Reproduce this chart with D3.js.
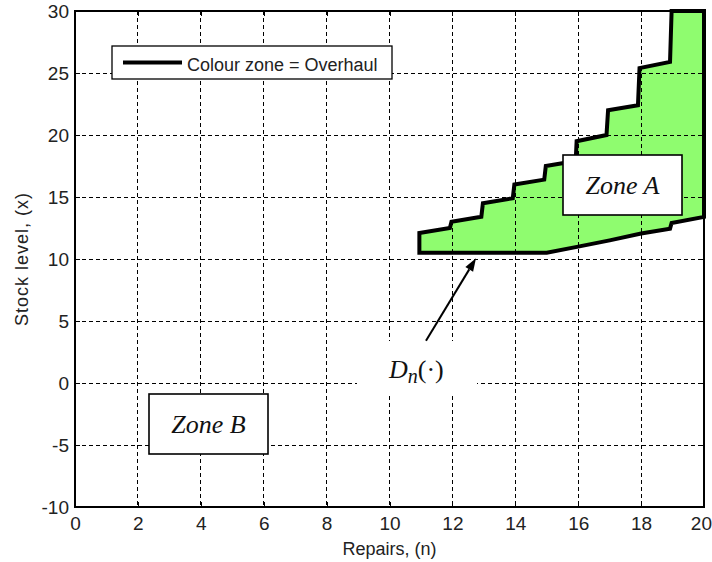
<!DOCTYPE html>
<html><head><meta charset="utf-8">
<script src="https://cdn.jsdelivr.net/npm/d3@7/dist/d3.min.js"></script>
<style>body{margin:0;background:#fff}</style>
</head><body>
<svg id="c" width="712" height="562"></svg>
<script>
// ---- data ----
const xTicks = [0, 2, 4, 6, 8, 10, 12, 14, 16, 18, 20];
const yTicks = [-10, -5, 0, 5, 10, 15, 20, 25, 30];
// upper (staircase) boundary of the overhaul zone: repairs n, stock x
const upperN = [10.95, 11.92, 11.97, 12.92, 12.97, 13.92, 13.97, 14.92, 14.97, 15.92, 15.95, 16.9, 16.95, 17.9, 17.95, 18.92, 18.97, 20];
const upperX = [12.1, 12.5, 13.0, 13.4, 14.5, 14.9, 16.0, 16.4, 17.5, 17.9, 19.5, 20.0, 22.0, 22.4, 25.4, 25.9, 30, 30];
// lower boundary D_n(.)
const lowerN = [10.95, 15.0, 16.0, 17.0, 18.0, 18.92, 18.97, 20];
const lowerX = [10.5, 10.5, 11.0, 11.5, 12.05, 12.45, 12.9, 13.4];
const legendLabel = "Colour zone = Overhaul";
const xLabel = "Repairs, (n)";
const yLabel = "Stock level, (x)";
const arrowFrom = [11.16, 3.4];
const arrowTo = [12.75, 10.06];

// ---- layout ----
const L = 75, R = 704, T = 11, B = 507;
const svg = d3.select("#c");
const x = d3.scaleLinear().domain([0, 20]).range([L, R]);
const y = d3.scaleLinear().domain([-10, 30]).range([B, T]);
const sans = "'Liberation Sans', Arial, sans-serif";
const serif = "'Liberation Serif', 'Times New Roman', serif";
const fmt = d => String(d);

svg.append("rect").attr("width", 712).attr("height", 562).attr("fill", "#fff");

// polygon points
const pts = upperN.map((n, i) => [n, upperX[i]]);
const lowRev = lowerN.map((n, i) => [n, lowerX[i]]).reverse();
const poly = pts.concat(lowRev);
const line = d3.line().x(d => x(d[0])).y(d => y(d[1]));

svg.append("path").attr("d", line(poly) + "Z").attr("fill", "#8ffc6f").attr("stroke", "none");

// grid
const grid = svg.append("g").attr("stroke", "#000").attr("stroke-width", 1).attr("stroke-dasharray", "4,3");
xTicks.slice(1, -1).forEach(t => grid.append("line").attr("x1", x(t)).attr("x2", x(t)).attr("y1", T).attr("y2", B).attr("shape-rendering", "crispEdges"));
yTicks.slice(1, -1).forEach(t => grid.append("line").attr("x1", L).attr("x2", R).attr("y1", y(t)).attr("y2", y(t)).attr("shape-rendering", "crispEdges"));

// polygon outline
svg.append("path").attr("d", line(poly) + "Z").attr("fill", "none").attr("stroke", "#000")
  .attr("stroke-width", 4).attr("stroke-linejoin", "miter");

// axes
const ax = svg.append("g").attr("transform", `translate(0,${B})`)
  .call(d3.axisBottom(x).tickValues(xTicks).tickSize(-5).tickPadding(9).tickFormat(fmt));
const ay = svg.append("g").attr("transform", `translate(${L},0)`)
  .call(d3.axisLeft(y).tickValues(yTicks).tickSize(-5).tickPadding(6).tickFormat(fmt));
const axT = svg.append("g").attr("transform", `translate(0,${T})`)
  .call(d3.axisTop(x).tickValues(xTicks).tickSize(-5).tickFormat(""));
const ayR = svg.append("g").attr("transform", `translate(${R},0)`)
  .call(d3.axisRight(y).tickValues(yTicks).tickSize(-5).tickFormat(""));
[ax, ay, axT, ayR].forEach(g => {
  g.select(".domain").remove();
  g.selectAll("line").attr("stroke", "#000").attr("shape-rendering", "crispEdges");
  g.selectAll("text").attr("font-family", sans).attr("font-size", 19).attr("fill", "#222");
});
ax.selectAll("text").attr("dy", "0.72em");
ax.selectAll("text").filter(d => d === 20).attr("text-anchor", "end").attr("x", 7.5);
svg.append("rect").attr("x", L).attr("y", T).attr("width", R - L).attr("height", B - T)
  .attr("fill", "none").attr("stroke", "#000").attr("stroke-width", 1.3).attr("shape-rendering", "crispEdges");

// axis labels
svg.append("text").attr("x", (L + R) / 2).attr("y", 555).attr("text-anchor", "middle")
  .attr("font-family", sans).attr("font-size", 18).attr("fill", "#222").text(xLabel);
svg.append("text").attr("transform", `translate(28,${(T + B) / 2}) rotate(-90)`).attr("text-anchor", "middle")
  .attr("font-family", sans).attr("font-size", 18).attr("letter-spacing", 1).attr("fill", "#222").text(yLabel);

// legend
const lg = svg.append("g");
lg.append("rect").attr("x", 112).attr("y", 46).attr("width", 280).attr("height", 33)
  .attr("fill", "#fff").attr("stroke", "#000").attr("stroke-width", 1.3);
lg.append("line").attr("x1", 123).attr("x2", 182).attr("y1", 62.5).attr("y2", 62.5)
  .attr("stroke", "#000").attr("stroke-width", 4);
lg.append("text").attr("x", 187).attr("y", 71).attr("font-family", sans).attr("font-size", 18)
  .attr("fill", "#222").text(legendLabel);

// zone boxes
function zoneBox(x0, y0, w, h, label) {
  svg.append("rect").attr("x", x0).attr("y", y0).attr("width", w).attr("height", h)
    .attr("fill", "#fff").attr("stroke", "#000").attr("stroke-width", 1.6);
  svg.append("text").attr("x", x0 + w / 2).attr("y", y0 + h / 2 + 9).attr("text-anchor", "middle")
    .attr("font-family", serif).attr("font-style", "italic").attr("font-size", 26).attr("fill", "#111").text(label);
}
zoneBox(563, 155, 119, 60, "Zone A");
zoneBox(149, 394, 119, 60, "Zone B");

// D_n label
svg.append("rect").attr("x", 357).attr("y", 341).attr("width", 120).attr("height", 55).attr("fill", "#fff");
const dt = svg.append("text").attr("x", 389).attr("y", 378).attr("font-family", serif).attr("font-size", 26).attr("fill", "#111");
dt.append("tspan").attr("font-style", "italic").text("D");
dt.append("tspan").attr("font-style", "italic").attr("font-size", 20).attr("dy", 5).text("n");
dt.append("tspan").attr("dy", -5).text("(·)");

// arrow
const ax0 = x(arrowFrom[0]), ay0 = y(arrowFrom[1]), ax1 = x(arrowTo[0]), ay1 = y(arrowTo[1]);
const ang = Math.atan2(ay1 - ay0, ax1 - ax0);
const hl = 13, hw = 4.5;
const bx = ax1 - hl * Math.cos(ang), by = ay1 - hl * Math.sin(ang);
svg.append("line").attr("x1", ax0).attr("y1", ay0).attr("x2", bx).attr("y2", by)
  .attr("stroke", "#000").attr("stroke-width", 2);
svg.append("path").attr("d", `M${ax1},${ay1}L${bx + hw * Math.sin(ang)},${by - hw * Math.cos(ang)}L${bx - hw * Math.sin(ang)},${by + hw * Math.cos(ang)}Z`)
  .attr("fill", "#000");
</script>
</body></html>
